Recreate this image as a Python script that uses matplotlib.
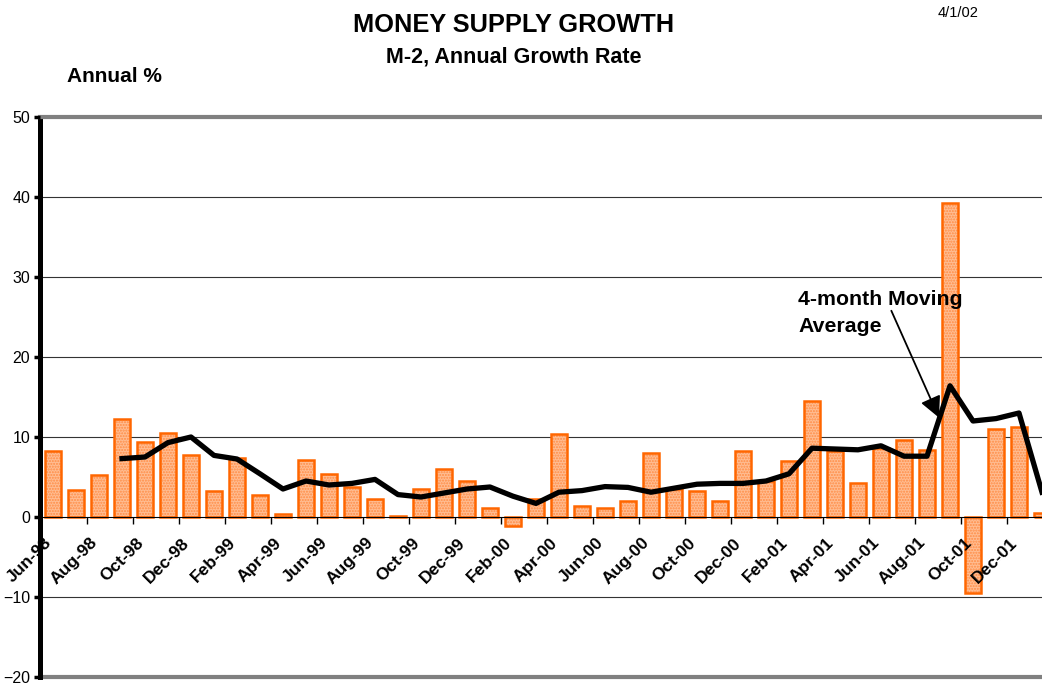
import matplotlib.pyplot as plt
from matplotlib.transforms import ScaledTranslation

plt.rcParams['font.family'] = ['Liberation Sans', 'DejaVu Sans']

# month labels shown on the axis (every other month, Jun-98 .. Dec-01)
tick_labels = ['Jun-98', 'Aug-98', 'Oct-98', 'Dec-98', 'Feb-99', 'Apr-99', 'Jun-99',
               'Aug-99', 'Oct-99', 'Dec-99', 'Feb-00', 'Apr-00', 'Jun-00', 'Aug-00',
               'Oct-00', 'Dec-00', 'Feb-01', 'Apr-01', 'Jun-01', 'Aug-01', 'Oct-01',
               'Dec-01']

# monthly M-2 growth, annual %, Jun-98 .. Jan-02
m2_growth = [8.3, 3.4, 5.2, 12.3, 9.4, 10.5, 7.8, 3.2, 7.4, 2.8, 0.4, 7.1, 5.4, 3.8,
             2.2, 0.1, 3.5, 6.0, 4.5, 1.1, -1.1, 2.3, 10.4, 1.4, 1.1, 2.0, 8.0, 3.5,
             3.2, 2.0, 8.3, 4.5, 7.0, 14.5, 8.3, 4.2, 8.6, 9.6, 8.4, 39.3, -9.5, 11.0,
             11.3, 0.5]

# 4-month moving average (first three months have none)
nan = float('nan')
moving_avg = [nan, nan, nan, 7.3, 7.5, 9.3, 10.0, 7.7, 7.25, 5.4, 3.5, 4.5, 4.0, 4.2,
              4.7, 2.8, 2.5, 3.0, 3.5, 3.75, 2.6, 1.7, 3.1, 3.3, 3.8, 3.7, 3.1, 3.6,
              4.1, 4.2, 4.2, 4.5, 5.4, 8.6, 8.5, 8.4, 8.9, 7.6, 7.6, 16.4, 12.0, 12.3,
              13.0, 3.1]

x = list(range(len(m2_growth)))

fig = plt.figure(figsize=(10.42, 6.84), dpi=100)
ax = fig.add_axes([40 / 1042, 7 / 684, 1002 / 1042, 560 / 684])
ax.set_axisbelow(False)  # month labels go over the negative bars

# bars: dotted light orange fill, then the solid orange outline
ax.bar(x, m2_growth, width=0.72, color='#FFBD92', edgecolor='#FF8C45', hatch='......',
       linewidth=0, zorder=2)
ax.bar(x, m2_growth, width=0.72, fill=False, edgecolor='#FF6600', linewidth=1.8, zorder=2.1)
ax.plot(x, moving_avg, color='black', linewidth=3.8, zorder=4)

ax.set_xlim(-0.565, 43.0)
ax.set_ylim(-20, 50)

# gridlines
for v in [-10, 10, 20, 30, 40]:
    ax.axhline(v, color='#333333', linewidth=0.8, zorder=1)
ax.axhline(-20, color='#808080', linewidth=3, zorder=1, clip_on=False)

ax.spines['top'].set_color('#808080')
ax.spines['top'].set_linewidth(3)
ax.spines['right'].set_visible(False)
ax.spines['left'].set_linewidth(3.6)
ax.spines['bottom'].set_position(('data', 0))
ax.spines['bottom'].set_linewidth(0.8)

ax.set_yticks(range(-20, 51, 10))
ax.tick_params(axis='y', direction='out', length=4, width=2.5, labelsize=11.5, pad=3)

# tick marks between every second month, labels under the months
ax.set_xticks([i + 1.5 for i in range(0, 42, 2)])
ax.set_xticklabels([])
ax.set_xticks(range(0, 44, 2), minor=True)
ax.set_xticklabels(tick_labels, minor=True, rotation=45, ha='right', va='top',
                   rotation_mode='anchor', fontweight='bold', fontsize=12.5)
ax.tick_params(axis='x', which='major', direction='out', length=5, width=1)
ax.tick_params(axis='x', which='minor', length=0, pad=13)
for lbl in ax.get_xticklabels(minor=True):
    lbl.set_transform(lbl.get_transform() + ScaledTranslation(-9 / 100, 0, fig.dpi_scale_trans))

# annotation for the moving average line
ax.text(32.39, 28.4, '4-month Moving\nAverage', fontsize=15.3, fontweight='bold',
        ha='left', va='top', linespacing=1.55, zorder=6)
ax.annotate('', xy=(38.57, 12.1), xytext=(36.4, 26.1),
            arrowprops=dict(arrowstyle='-|>', mutation_scale=32, lw=1.3, color='black'),
            zorder=5)

fig.text(514 / 1042, 1 - 32 / 684, 'MONEY SUPPLY GROWTH', fontsize=18.3, fontweight='bold',
         ha='center', va='baseline')
fig.text(514 / 1042, 1 - 62 / 684, 'M-2, Annual Growth Rate', fontsize=15.5,
         fontweight='bold', ha='center', va='baseline')
fig.text(67 / 1042, 1 - 82 / 684, 'Annual %', fontsize=15, fontweight='bold',
         ha='left', va='baseline')
fig.text(938 / 1042, 1 - 17 / 684, '4/1/02', fontsize=10.5, ha='left', va='baseline')

fig.savefig('out.png', dpi=100)
